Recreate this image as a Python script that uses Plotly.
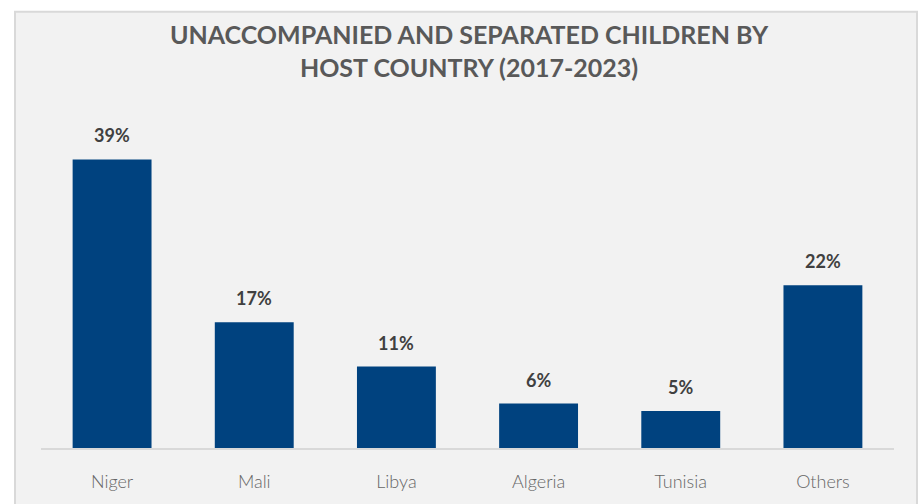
import plotly.graph_objects as go

categories = ["Niger", "Mali", "Libya", "Algeria", "Tunisia", "Others"]
values = [39, 17, 11, 6, 5, 22]
labels = [f"{v}%" for v in values]

title_text = "UNACCOMPANIED AND SEPARATED CHILDREN BY<br>HOST COUNTRY (2017-2023)"

BAR = "#00427F"
TXT = "#595959"
FONT = "Lato"

fig = go.Figure(go.Bar(
    x=categories, y=values, marker=dict(color=BAR, line=dict(width=0)),
    width=0.555, hoverinfo="skip",
))

for c, v, t in zip(categories, values, labels):
    fig.add_annotation(x=c, y=v, text=f"<b>{t}</b>", showarrow=False,
                       yanchor="bottom", yshift=11,
                       font=dict(family=FONT, size=18, color="#404040"))

W, H = 921, 504
ml, mr, mt, mb = 41, 27, 115, 50
pw, ph = W - ml - mr, H - mt - mb

def px(x):
    return (x - ml) / pw

def py(y):
    return (H - mb - y) / ph

fig.add_shape(type="rect", xref="paper", yref="paper",
              x0=px(15), x1=px(917), y0=py(520), y1=py(10),
              fillcolor="#F2F2F2", line=dict(color="#D9D9D9", width=2),
              layer="below")

fig.update_layout(
    width=W, height=H,
    margin=dict(l=ml, r=mr, t=mt, b=mb),
    paper_bgcolor="white", plot_bgcolor="rgba(0,0,0,0)",
    showlegend=False,
    title=dict(text=f"<b>{title_text}</b>", x=px(469), xanchor="center",
               xref="paper", y=1 - 44 / H, yanchor="middle",
               font=dict(family=FONT, size=25, color=TXT)),
    xaxis=dict(showgrid=False, showline=True, linecolor="#D9D9D9", linewidth=2,
               ticks="outside", ticklen=16, tickcolor="rgba(0,0,0,0)",
               tickfont=dict(family=FONT, size=18, color="#666666", weight=300),
               fixedrange=True),
    yaxis=dict(range=[0, 45], visible=False, fixedrange=True),
    bargap=0.445,
)

fig.write_html("out.html", config={"displayModeBar": False},
               post_script="document.body.style.margin='0';")
